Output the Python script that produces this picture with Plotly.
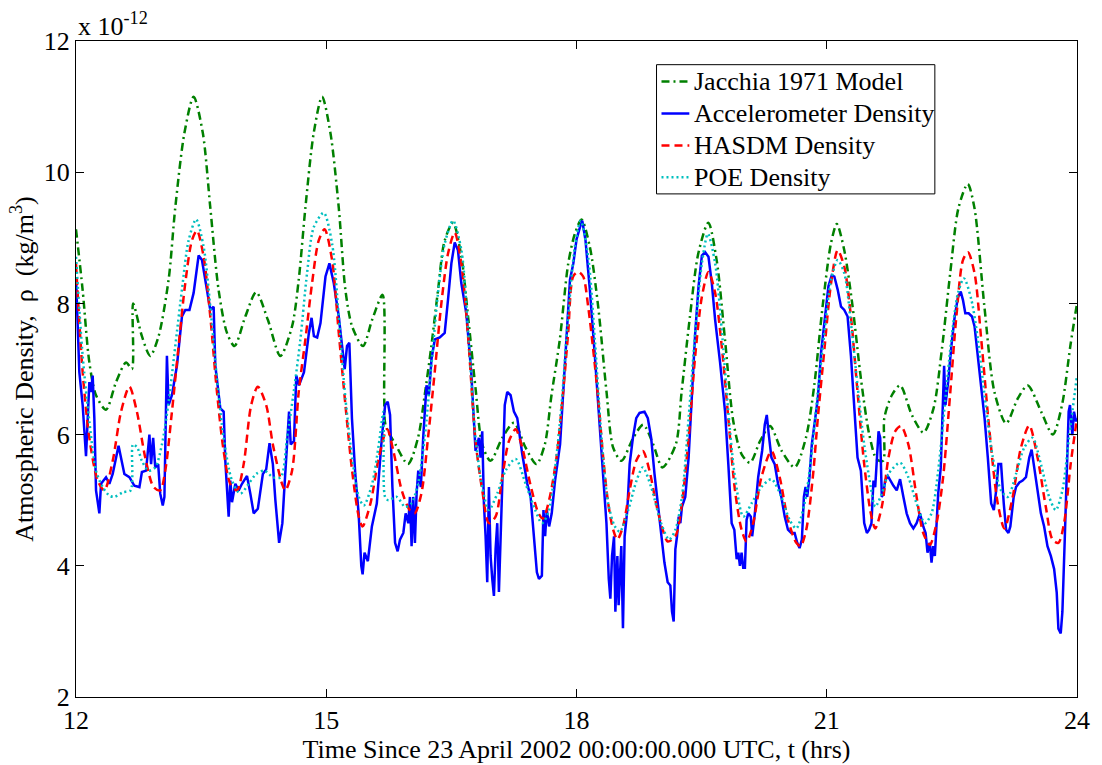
import plotly.graph_objects as go

# ---- Data (hours since 23 April 2002 00:00 UTC, density in 1e-12 kg/m^3) ----
jacchia_t = [12.0, 12.08, 12.16, 12.24, 12.36, 12.48, 12.6, 12.67, 12.685, 12.79, 12.89, 12.99, 13.11, 13.19,
             13.3, 13.41, 13.52, 13.61, 13.71, 13.81, 13.9, 14.03, 14.16, 14.3, 14.45, 14.59, 14.67, 14.75,
             14.85, 14.95, 15.05, 15.15, 15.23, 15.31, 15.44, 15.55, 15.675, 15.695, 15.71, 15.83, 15.98,
             16.1, 16.18, 16.26, 16.34, 16.42, 16.52, 16.62, 16.7, 16.79, 16.87, 16.97, 17.11, 17.25, 17.39,
             17.52, 17.62, 17.7, 17.8, 17.9, 17.98, 18.06, 18.16, 18.26, 18.36, 18.44, 18.54, 18.68, 18.8,
             18.92, 19.03, 19.19, 19.26, 19.36, 19.46, 19.58, 19.68, 19.78, 19.88, 19.98, 20.08, 20.2, 20.32,
             20.46, 20.615, 20.75, 20.85, 20.95, 21.05, 21.12, 21.21, 21.31, 21.41, 21.51, 21.6, 21.675,
             21.69, 21.78, 21.88, 22.02, 22.16, 22.28, 22.38, 22.48, 22.58, 22.69, 22.77, 22.89, 23.01,
             23.15, 23.29, 23.41, 23.57, 23.71, 23.82, 23.92, 24.0]
jacchia_v = [9.13, 8.2, 7.1, 6.6, 6.38, 6.8, 7.1, 7.0, 8.0, 7.5, 7.2, 7.5, 8.36, 9.46,
             10.6, 11.15, 10.6, 9.46, 8.2, 7.55, 7.35, 7.8, 8.17, 7.75, 7.2, 7.65, 8.36, 9.46,
             10.6, 11.15, 10.6, 9.46, 8.2, 7.65, 7.35, 7.75, 8.13, 6.55, 6.15, 5.85, 5.55,
             5.95, 6.6, 7.35, 8.2, 8.96, 9.23, 8.71, 7.8, 6.7, 5.85, 5.6, 5.95, 6.18, 5.8,
             5.55, 5.85, 6.6, 7.45, 8.6, 9.06, 9.28, 8.86, 7.95, 6.65, 5.8, 5.6, 5.95, 6.15,
             5.85, 5.5, 5.85, 6.65, 7.8, 8.76, 9.23, 8.66, 7.45, 6.2, 5.7, 5.57, 5.9, 6.13,
             5.75, 5.5, 5.95, 6.75, 7.95, 8.91, 9.21, 8.81, 7.95, 6.85, 6.0, 5.62, 5.6,
             6.25, 6.6, 6.75, 6.3, 6.03, 6.4, 7.3, 8.46, 9.46, 9.82, 9.46, 7.95, 6.65,
             6.17, 6.55, 6.75, 6.35, 6.0, 6.45, 7.35, 8.0]

accel_t = [12.0, 12.02, 12.04, 12.08, 12.12, 12.16, 12.18, 12.2, 12.22, 12.24, 12.28, 12.3, 12.36, 12.4,
           12.44, 12.51, 12.58, 12.64, 12.7, 12.76, 12.79, 12.84, 12.88, 12.9, 12.925, 12.95, 12.985,
           13.01, 13.04, 13.06, 13.09, 13.11, 13.15, 13.21, 13.27, 13.31, 13.36, 13.41, 13.47, 13.51,
           13.57, 13.61, 13.65, 13.67, 13.73, 13.77, 13.79, 13.83, 13.85, 13.87, 13.91, 13.95, 13.99,
           14.05, 14.09, 14.13, 14.18, 14.24, 14.28, 14.32, 14.36, 14.39, 14.435, 14.474, 14.494,
           14.534, 14.554, 14.574, 14.613, 14.641, 14.673, 14.733, 14.792, 14.824, 14.852, 14.891,
           14.931, 14.991, 15.038, 15.09, 15.15, 15.19, 15.221, 15.249, 15.277, 15.308, 15.348,
           15.388, 15.42, 15.436, 15.459, 15.499, 15.547, 15.606, 15.666, 15.706, 15.737, 15.765,
           15.793, 15.825, 15.856, 15.884, 15.924, 15.952, 15.984, 16.003, 16.023, 16.043, 16.063,
           16.083, 16.103, 16.134, 16.162, 16.202, 16.23, 16.262, 16.301, 16.361, 16.42, 16.46, 16.5,
           16.54, 16.579, 16.619, 16.679, 16.738, 16.79, 16.83, 16.85, 16.87, 16.89, 16.91, 16.93,
           16.95, 16.97, 16.99, 17.01, 17.03, 17.05, 17.07, 17.09, 17.11, 17.14, 17.17, 17.21, 17.25,
           17.29, 17.35, 17.41, 17.45, 17.485, 17.525, 17.55, 17.585, 17.604, 17.624, 17.644, 17.672,
           17.703, 17.743, 17.803, 17.862, 17.922, 17.962, 18.001, 18.041, 18.069, 18.108, 18.16,
           18.22, 18.267, 18.319, 18.359, 18.387, 18.406, 18.426, 18.45, 18.466, 18.49, 18.505, 18.52,
           18.537, 18.557, 18.577, 18.609, 18.637, 18.676, 18.716, 18.756, 18.815, 18.855, 18.895,
           18.935, 18.974, 19.014, 19.054, 19.093, 19.125, 19.145, 19.165, 19.185, 19.205, 19.225,
           19.245, 19.264, 19.304, 19.344, 19.384, 19.423, 19.463, 19.503, 19.542, 19.582, 19.622,
           19.662, 19.721, 19.781, 19.82, 19.86, 19.892, 19.92, 19.94, 19.959, 19.979, 19.999, 20.019,
           20.039, 20.059, 20.09, 20.106, 20.138, 20.178, 20.225, 20.257, 20.281, 20.305, 20.337,
           20.376, 20.416, 20.456, 20.496, 20.535, 20.575, 20.615, 20.646, 20.674, 20.702, 20.726,
           20.746, 20.766, 20.793, 20.821, 20.853, 20.893, 20.932, 20.98, 21.02, 21.06, 21.091, 21.131,
           21.171, 21.21, 21.25, 21.29, 21.33, 21.369, 21.409, 21.449, 21.481, 21.508, 21.536, 21.56,
           21.581, 21.601, 21.621, 21.641, 21.66, 21.68, 21.7, 21.732, 21.76, 21.8, 21.839, 21.879,
           21.919, 21.958, 21.998, 22.038, 22.077, 22.117, 22.157, 22.185, 22.208, 22.236, 22.256,
           22.276, 22.296, 22.316, 22.336, 22.367, 22.387, 22.407, 22.423, 22.455, 22.494, 22.534,
           22.574, 22.606, 22.633, 22.661, 22.701, 22.741, 22.772, 22.812, 22.852, 22.892, 22.931,
           22.971, 23.003, 23.031, 23.058, 23.09, 23.122, 23.15, 23.178, 23.201, 23.241, 23.269,
           23.309, 23.348, 23.388, 23.428, 23.456, 23.487, 23.527, 23.567, 23.606, 23.646, 23.686,
           23.726, 23.757, 23.777, 23.805, 23.825, 23.853, 23.877, 23.9, 23.916, 23.944, 23.964,
           23.988, 24.0]
accel_v = [8.4, 7.7, 6.95, 6.45, 5.67, 6.8, 6.65, 6.9, 6.25, 5.15, 4.8, 5.25, 5.35, 5.25,
           5.4, 5.83, 5.4, 5.35, 5.22, 5.2, 5.43, 5.45, 6.0, 5.55, 5.95, 5.5, 5.55,
           5.1, 4.92, 5.05, 7.2, 6.45, 6.6, 7.05, 7.8, 7.9, 7.9, 8.16, 8.73, 8.66,
           8.21, 7.9, 7.95, 7.05, 6.4, 6.35, 5.6, 4.75, 5.3, 4.97, 5.25, 5.15, 5.25,
           5.37, 5.1, 4.8, 4.87, 5.4, 5.47, 5.87, 5.55, 5.0, 4.35, 4.65, 5.1,
           5.95, 6.35, 5.85, 5.9, 6.9, 6.75, 6.95, 7.55, 7.78, 7.5, 7.48,
           7.7, 8.41, 8.61, 8.31, 7.8, 7.35, 7.0, 7.35, 7.4, 6.25, 5.4,
           4.8, 4.0, 3.87, 4.2, 4.07, 4.6, 4.95, 5.95, 6.45, 6.5, 6.3,
           5.2, 4.35, 4.22, 4.4, 4.5, 4.8, 4.65, 5.05, 4.3, 5.05, 4.35,
           5.1, 5.45, 5.2, 5.95, 6.75, 6.6, 7.15, 7.45, 7.48, 7.55, 8.06, 8.61,
           8.93, 8.81, 8.31, 7.85, 6.95, 5.75, 5.95, 5.65, 6.05, 4.95, 4.45, 3.75,
           5.2, 4.15, 3.8, 3.54, 4.25, 4.65, 3.6, 4.45, 5.2, 6.45, 6.65, 6.6, 6.35,
           6.25, 5.7, 5.25, 5.05, 4.45, 3.9, 3.8, 3.85, 4.85, 4.45, 4.85, 4.6,
           4.8, 5.3, 5.85, 7.05, 8.36, 8.61, 8.98, 9.16, 9.26, 8.96, 8.21,
           7.2, 6.35, 5.45, 4.65, 3.8, 3.5, 4.15, 4.45, 3.3, 4.15, 3.4, 3.9,
           4.3, 3.05, 4.45, 4.85, 5.55, 5.95, 6.25, 6.33, 6.35, 6.25, 5.95,
           5.4, 4.95, 4.45, 4.05, 3.75, 3.7, 3.3, 3.15, 4.25, 4.45, 4.75,
           4.65, 4.9, 5.05, 5.65, 6.6, 7.55, 8.26, 8.73, 8.78, 8.71, 8.31,
           7.75, 7.1, 6.35, 5.55, 4.65, 4.55, 4.1, 4.2, 4.0, 4.2, 3.97, 3.97,
           4.7, 4.8, 4.75, 4.45, 4.8, 5.35, 5.75, 6.15, 6.3, 6.0, 5.65,
           5.55, 5.25, 5.05, 4.75, 4.55, 4.5, 4.5, 4.35, 4.27, 4.4, 5.05,
           5.2, 5.05, 5.35, 5.85, 6.15, 6.55, 7.25, 7.8, 8.26, 8.43, 8.41, 8.21,
           7.95, 7.9, 7.8, 7.2, 6.45, 5.65, 5.45, 4.65, 4.5, 4.55, 4.65, 5.3,
           5.2, 5.65, 6.05, 5.95, 5.05, 5.1, 5.3, 5.37, 5.3, 5.22, 5.15, 5.32,
           5.05, 4.8, 4.65, 4.57, 4.65, 4.8, 4.6, 4.5, 4.2, 4.35, 4.05,
           4.3, 4.15, 4.55, 5.1, 5.5, 6.2, 7.05, 6.45, 6.8, 7.35, 7.8,
           8.1, 8.18, 8.05, 7.85, 7.85, 7.8, 7.65, 7.2, 6.65, 6.25, 5.65,
           4.95, 4.85, 5.15, 5.55, 5.55, 4.95, 4.55, 4.5, 4.6, 5.05, 5.2,
           5.27, 5.3, 5.35, 5.65, 5.77, 5.5, 5.15, 4.8, 4.6, 4.3, 4.15,
           3.95, 3.59, 3.04, 2.97, 3.3, 4.4, 5.35, 6.35, 6.45, 5.99, 6.35,
           6.2, 6.25]

hasdm_t = [12.0, 12.08, 12.16, 12.26, 12.34, 12.44, 12.54, 12.64, 12.73, 12.83, 12.93, 13.01, 13.07,
           13.15, 13.23, 13.31, 13.39, 13.45, 13.53, 13.61, 13.69, 13.77, 13.85, 13.93, 14.01, 14.1,
           14.18, 14.28, 14.36, 14.47, 14.51, 14.59, 14.67, 14.75, 14.83, 14.91, 14.98, 15.07, 15.15,
           15.23, 15.31, 15.39, 15.435, 15.53, 15.63, 15.73, 15.805, 15.905, 16.0, 16.06, 16.14, 16.22,
           16.3, 16.38, 16.46, 16.54, 16.62, 16.7, 16.79, 16.87, 16.95, 17.03, 17.11, 17.19, 17.27,
           17.35, 17.445, 17.545, 17.6, 17.68, 17.76, 17.84, 17.9, 17.96, 18.02, 18.08, 18.14, 18.2,
           18.26, 18.32, 18.38, 18.44, 18.49, 18.557, 18.637, 18.716, 18.795, 18.875, 18.954, 19.034,
           19.093, 19.185, 19.264, 19.344, 19.423, 19.503, 19.582, 19.662, 19.741, 19.82, 19.9,
           19.979, 20.039, 20.118, 20.217, 20.337, 20.436, 20.535, 20.635, 20.686, 20.754, 20.833,
           20.893, 20.972, 21.052, 21.131, 21.21, 21.29, 21.369, 21.449, 21.528, 21.581, 21.66,
           21.74, 21.82, 21.89, 21.978, 22.077, 22.157, 22.236, 22.316, 22.395, 22.475, 22.554,
           22.633, 22.693, 22.772, 22.852, 22.951, 23.05, 23.13, 23.229, 23.328, 23.428, 23.527,
           23.626, 23.706, 23.777, 23.845, 23.924, 24.0]
hasdm_v = [8.6, 6.95, 5.95, 5.3, 5.15, 5.6, 6.35, 6.73, 6.35, 5.65, 5.2, 5.15, 5.45,
           6.35, 7.35, 8.31, 8.96, 9.11, 8.71, 7.8, 6.65, 5.75, 5.25, 5.15, 5.55, 6.45,
           6.73, 6.45, 5.85, 5.25, 5.15, 5.45, 6.65, 7.45, 8.31, 8.96, 9.13, 8.66, 7.55,
           6.45, 5.45, 4.75, 4.6, 4.95, 5.65, 6.08, 5.75, 5.15, 4.85, 4.8, 5.1, 5.95,
           6.95, 8.0, 8.76, 9.08, 8.6, 7.5, 5.9, 5.15, 4.65, 4.75, 5.35, 5.9, 6.08,
           5.8, 5.25, 4.8, 4.72, 5.05, 5.65, 6.65, 7.55, 8.41, 8.48, 8.41, 7.95, 7.3,
           6.55, 5.65, 4.95, 4.55, 4.4, 4.6, 5.15, 5.6, 5.75, 5.45, 4.95, 4.55,
           4.37, 4.45, 4.95, 5.95, 7.2, 8.1, 8.48, 8.16, 7.35, 6.25, 5.15,
           4.55, 4.37, 4.65, 5.35, 5.75, 5.35, 4.7, 4.35, 4.3, 4.55, 5.35,
           6.25, 7.3, 8.31, 8.81, 8.56, 7.8, 6.65, 5.55, 4.8, 4.57, 4.9,
           5.65, 6.05, 6.13, 5.85, 5.05, 4.5, 4.32, 4.65, 5.35, 6.55, 7.8,
           8.66, 8.78, 8.46, 7.45, 6.05, 4.95, 4.57, 5.05, 5.8, 6.14, 5.65,
           4.9, 4.4, 4.35, 4.65, 5.55, 6.25]

poe_t = [12.0, 12.08, 12.16, 12.24, 12.32, 12.4, 12.46, 12.56, 12.655, 12.683, 12.735, 12.79, 12.87,
         12.95, 13.03, 13.11, 13.19, 13.27, 13.35, 13.44, 13.53, 13.61, 13.69, 13.77, 13.87, 13.97,
         14.07, 14.16, 14.26, 14.36, 14.455, 14.53, 14.61, 14.69, 14.77, 14.85, 14.97, 15.07, 15.15,
         15.23, 15.31, 15.39, 15.45, 15.55, 15.63, 15.686, 15.705, 15.745, 15.845, 15.944, 16.02,
         16.1, 16.18, 16.26, 16.34, 16.42, 16.52, 16.62, 16.7, 16.79, 16.87, 16.95, 17.05, 17.15,
         17.27, 17.39, 17.505, 17.585, 17.66, 17.74, 17.82, 17.9, 17.98, 18.05, 18.14, 18.22, 18.3,
         18.38, 18.46, 18.52, 18.62, 18.72, 18.795, 18.895, 19.014, 19.11, 19.185, 19.264, 19.344,
         19.423, 19.503, 19.575, 19.662, 19.741, 19.82, 19.9, 20.0, 20.098, 20.217, 20.337, 20.456,
         20.555, 20.635, 20.734, 20.813, 20.893, 20.972, 21.052, 21.131, 21.21, 21.29, 21.369,
         21.449, 21.528, 21.581, 21.66, 21.74, 21.88, 21.978, 22.077, 22.177, 22.256, 22.336,
         22.415, 22.494, 22.574, 22.645, 22.733, 22.812, 22.892, 22.991, 23.09, 23.17, 23.269,
         23.368, 23.467, 23.567, 23.666, 23.745, 23.825, 23.904, 24.0]
poe_v = [8.71, 7.2, 6.2, 5.45, 5.2, 5.07, 5.05, 5.12, 5.15, 5.85, 5.8, 5.6, 5.45,
         5.5, 5.85, 6.5, 7.35, 8.21, 8.96, 9.28, 8.86, 7.95, 6.85, 5.95, 5.3, 5.1,
         5.25, 5.4, 5.45, 5.35, 5.35, 5.95, 6.65, 7.45, 8.46, 9.16, 9.38, 8.91, 7.8,
         6.55, 5.65, 5.05, 4.92, 5.25, 5.85, 6.35, 5.05, 5.0, 5.05, 4.9, 4.95,
         5.25, 5.95, 7.05, 8.16, 8.91, 9.26, 8.81, 7.6, 5.95, 5.2, 4.85, 5.1, 5.45,
         5.63, 5.25, 4.85, 4.65, 4.8, 5.45, 6.45, 7.8, 8.86, 9.26, 8.71, 7.45, 5.95,
         4.95, 4.6, 4.52, 4.85, 5.3, 5.5, 5.2, 4.65, 4.4, 4.55, 5.05, 6.25,
         7.55, 8.61, 9.06, 8.61, 7.6, 6.35, 5.35, 4.75, 4.95, 5.2, 5.32, 5.05,
         4.7, 4.57, 4.95, 5.65, 6.65, 7.55, 8.36, 8.66, 8.46, 7.7, 6.75,
         5.85, 5.2, 4.9, 5.1, 5.4, 5.57, 5.35, 4.95, 4.65, 4.8, 5.45,
         6.45, 7.45, 8.16, 8.38, 8.06, 7.45, 6.6, 5.65, 5.15, 5.05, 5.4,
         5.8, 5.95, 5.55, 5.05, 4.85, 5.15, 5.95, 6.9]

x_ticks = [12, 15, 18, 21, 24]
y_ticks = [2, 4, 6, 8, 10, 12]

series_names = ["Jacchia 1971 Model", "Accelerometer Density", "HASDM Density", "POE Density"]
series_colors = ["#008000", "#0000FF", "#FF0000", "#00BFBF"]
series_dashes = ["8px,4px,2px,4px", "solid", "8px,5px", "2px,3px"]

FONT = "Liberation Serif, Times New Roman, serif"
FS = 26

fig = go.Figure()
data = [(jacchia_t, jacchia_v, "spline"), (accel_t, accel_v, "linear"),
        (hasdm_t, hasdm_v, "spline"), (poe_t, poe_v, "spline")]
for (t, v, shape), name, color, dash in zip(data, series_names, series_colors, series_dashes):
    line = dict(color=color, width=2.5, dash=dash, shape=shape)
    if shape == "spline":
        line["smoothing"] = 0.8
    fig.add_trace(go.Scatter(x=t, y=v, mode="lines", name=name, line=line, showlegend=False))

axis_common = dict(showline=True, linecolor="black", linewidth=1.2, mirror="ticks", ticks="inside",
                   ticklen=8, tickcolor="black", tickwidth=1, showgrid=False, zeroline=False,
                   tickfont=dict(family=FONT, size=FS, color="black"))

fig.update_xaxes(range=[12, 24], tickvals=x_ticks, ticktext=[str(v) for v in x_ticks],
                 title=dict(text="Time Since 23 April 2002 00:00:00.000 UTC, t (hrs)",
                            font=dict(family=FONT, size=FS, color="black"), standoff=0),
                 **axis_common)
fig.update_yaxes(range=[2, 12], tickvals=y_ticks, ticktext=[str(v) for v in y_ticks],
                 title=dict(text="Atmospheric Density,  ρ  (kg/m<sup>3</sup>)",
                            font=dict(family=FONT, size=FS, color="black"), standoff=2),
                 **axis_common)

fig.add_annotation(text="x 10<sup>-12</sup>", xref="paper", yref="paper", x=0, y=1,
                   xanchor="left", yanchor="bottom", showarrow=False, yshift=-2,
                   font=dict(family=FONT, size=FS, color="black"))

# ---- Legend box (MATLAB-style, drawn in paper coordinates) ----
PLOT_L, PLOT_W, PLOT_B, PLOT_H = 76, 1007, 706, 665
def px(xp):
    return (xp - PLOT_L) / PLOT_W
def py(yp):
    return (PLOT_B - yp) / PLOT_H

fig.add_shape(type="rect", xref="paper", yref="paper", x0=px(660), x1=px(940), y0=py(196), y1=py(65),
              line=dict(color="black", width=1), fillcolor="white", layer="above")
row_y = [82, 114.5, 147, 179]
for yy, name, color, dash in zip(row_y, series_names, series_colors, series_dashes):
    fig.add_shape(type="line", xref="paper", yref="paper", x0=px(665), x1=px(693), y0=py(yy), y1=py(yy),
                  line=dict(color=color, width=2.5, dash=dash), layer="above")
    fig.add_annotation(text=name, xref="paper", yref="paper", x=px(696), y=py(yy),
                       xanchor="left", yanchor="middle", showarrow=False,
                       font=dict(family=FONT, size=FS, color="black"))

fig.update_layout(
    width=1102, height=765,
    margin=dict(l=76, r=19, t=41, b=59),
    paper_bgcolor="white", plot_bgcolor="white",
    font=dict(family=FONT, size=FS, color="black"),
    showlegend=False,
)

fig.write_html("out.html")
